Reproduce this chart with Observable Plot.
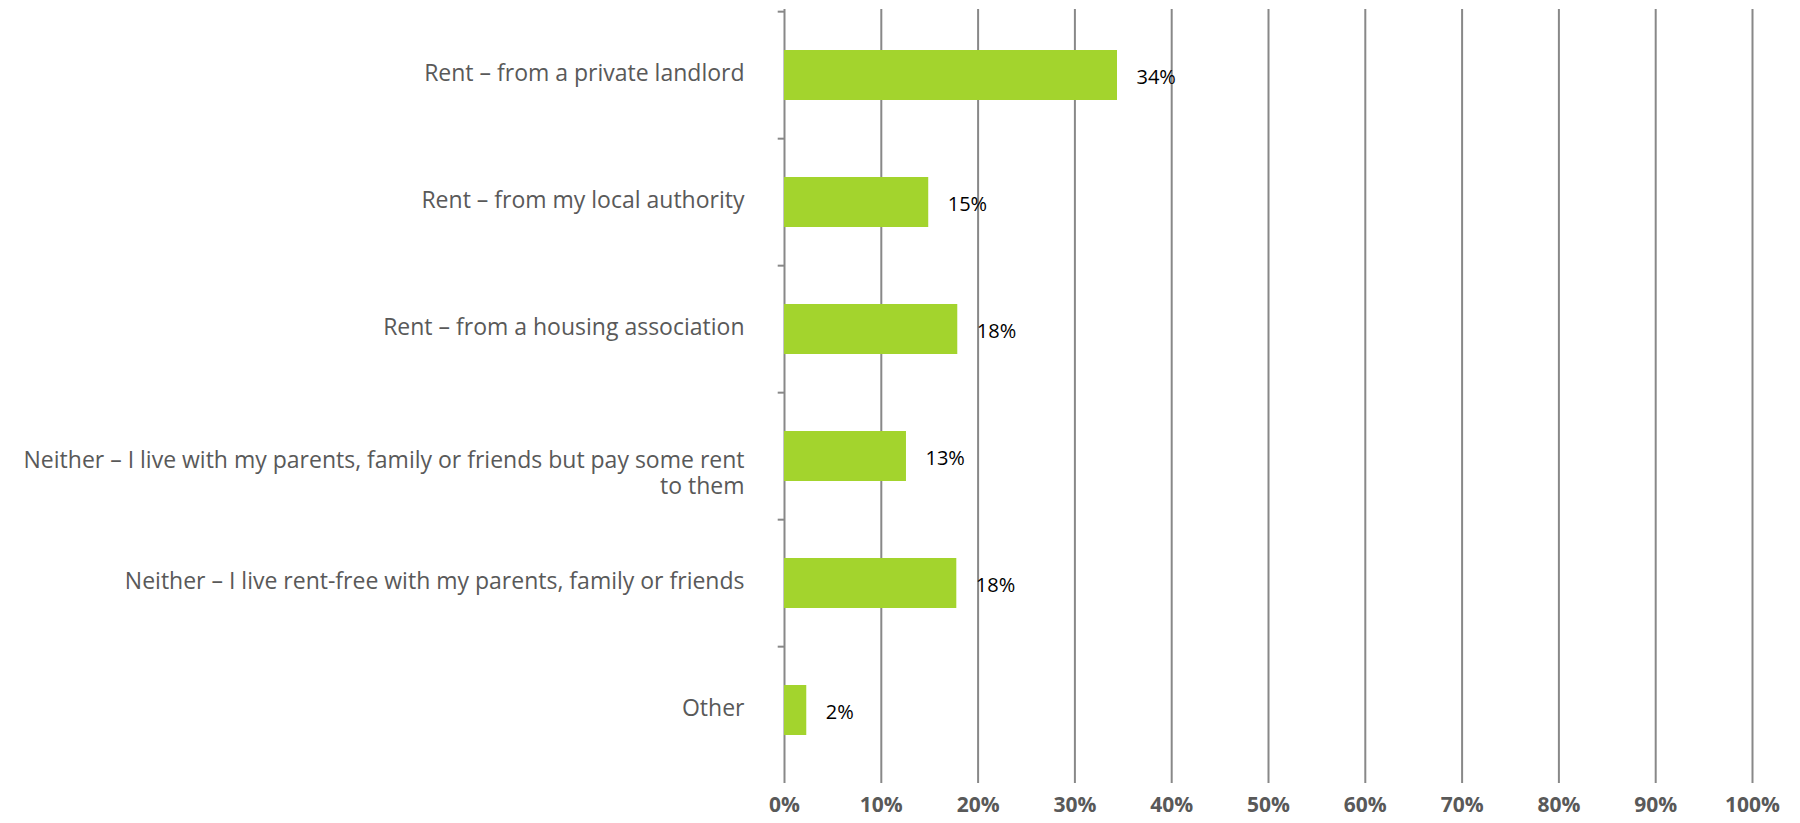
<!DOCTYPE html>
<html>
<head>
<meta charset="utf-8">
<script src="https://cdn.jsdelivr.net/npm/d3@7"></script>
<script src="https://cdn.jsdelivr.net/npm/@observablehq/plot@0.6"></script>
<style>
  html, body { margin: 0; padding: 0; background: #fff; }
  #chart svg { display: block; }
</style>
</head>
<body>
<div id="chart"></div>
<script>
const categories = [
  "Rent – from a private landlord",
  "Rent – from my local authority",
  "Rent – from a housing association",
  "Neither – I live with my parents, family or friends but pay some rent\nto them",
  "Neither – I live rent-free with my parents, family or friends",
  "Other"
];
const values = [34.4, 14.9, 17.9, 12.6, 17.8, 2.3];
const valueLabels = ["34%", "15%", "18%", "13%", "18%", "2%"];
const xTicks = [0, 10, 20, 30, 40, 50, 60, 70, 80, 90, 100];

const data = categories.map((c, i) => ({category: c, value: values[i], label: valueLabels[i]}));

const gridColor = "#888888";
const W = 1800, H = 823, mT = 9, mB = 48;
const step = (H - mT - mB) / categories.length;
const isMulti = d => d.category.includes("\n");

const chart = Plot.plot({
  width: W,
  height: H,
  marginLeft: 784,
  marginRight: 48,
  marginTop: mT,
  marginBottom: mB,
  style: {fontFamily: "'Open Sans', sans-serif", background: "#fff"},
  x: {domain: [0, 100]},
  y: {domain: categories, paddingInner: 0.61, paddingOuter: 0.305, align: 0.5, axis: null},
  marks: [
    Plot.ruleX(xTicks.filter(d => d > 0), {stroke: gridColor, strokeWidth: 2}),
    Plot.ruleX([0], {stroke: gridColor, strokeWidth: 2}),
    Plot.ruleY(categories, {y: d => d, x1: -0.65, x2: 0, dy: -step / 2, stroke: gridColor, strokeWidth: 2}),
    Plot.barX(data, {x: "value", y: "category", fill: "#a3d42d"}),
    Plot.text(data, {x: "value", y: "category", text: "label", textAnchor: "start", dx: 19, dy: 2, fontSize: 20, fill: "#000"}),
    Plot.text(data, {filter: d => !isMulti(d), frameAnchor: "left", y: "category", text: "category", textAnchor: "end", lineAnchor: "top", dx: -40, dy: -11, fontSize: 23, fill: "#595959"}),
    Plot.text(data, {filter: isMulti, frameAnchor: "left", y: "category", text: "category", textAnchor: "end", lineAnchor: "top", lineHeight: 1.12, dx: -40, dy: -7, fontSize: 23, fill: "#595959"}),
    Plot.axisX(xTicks, {tickSize: 8, tickPadding: 14, fontSize: 21, fontWeight: "bold", fill: "#595959", stroke: gridColor, strokeWidth: 2, tickFormat: d => d + "%", label: null}),
    Plot.ruleY([0], {frameAnchor: "bottom", x1: -0.8, x2: 100, stroke: gridColor, strokeWidth: 2})
  ]
});
document.getElementById("chart").appendChild(chart);
</script>
</body>
</html>
